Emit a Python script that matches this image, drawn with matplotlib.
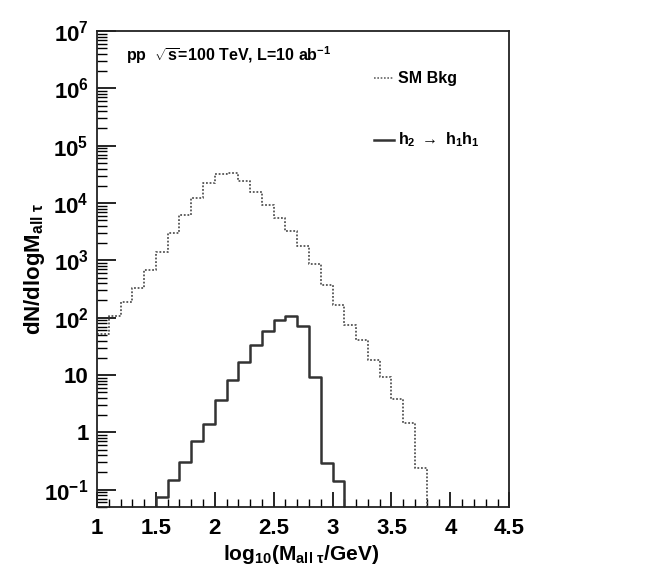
import numpy as np
import matplotlib
matplotlib.use("Agg")
import matplotlib.pyplot as plt
from matplotlib.ticker import LogLocator, FixedLocator, NullFormatter

plt.rcParams['font.family'] = ['Liberation Sans', 'DejaVu Sans']
plt.rcParams['font.weight'] = 'bold'
plt.rcParams['mathtext.fontset'] = 'custom'
plt.rcParams['mathtext.rm'] = 'Liberation Sans:bold'
plt.rcParams['mathtext.it'] = 'Liberation Sans:bold'
plt.rcParams['mathtext.bf'] = 'Liberation Sans:bold'
plt.rcParams['mathtext.default'] = 'bf'

# Histogram bin edges in log10(M / GeV)
bin_edges = np.round(np.arange(1.0, 4.5001, 0.1), 2)

# SM background per bin (bins 1.0-1.1 ... 3.7-3.8), zero afterwards
sm_bkg = [53, 108, 185, 325, 690, 1390, 2950, 6200, 12400, 22500,
          32000, 33500, 24000, 15700, 9100, 5400, 3200, 1750, 850, 370,
          165, 75, 41, 18, 9.2, 3.9, 1.45, 0.24, 0, 0, 0, 0, 0, 0, 0]

# Signal h2 -> h1 h1 per bin
signal = [0, 0, 0, 0, 0, 0.075, 0.148, 0.30, 0.71, 1.42,
          3.7, 8.3, 17, 33.6, 59, 91, 108, 72, 9.1, 0.29,
          0.145, 0, 0, 0, 0, 0, 0, 0, 0, 0, 0, 0, 0, 0, 0]

x_ticks = [1, 1.5, 2, 2.5, 3, 3.5, 4, 4.5]
x_tick_labels = ["1", "1.5", "2", "2.5", "3", "3.5", "4", "4.5"]
y_major = [1e-1, 1, 10, 1e2, 1e3, 1e4, 1e5, 1e6, 1e7]
y_labels = [r"$10^{-1}$", "1", "10", r"$10^{2}$", r"$10^{3}$", r"$10^{4}$",
            r"$10^{5}$", r"$10^{6}$", r"$10^{7}$"]

fig = plt.figure(figsize=(6.64, 5.72), dpi=100)
ax = fig.add_axes([0.146, 0.1136, 0.621, 0.8322])

ymin, ymax = 0.05, 1e7


def step_outline(edges, vals, floor):
    """Build a ROOT-style histogram outline that drops to the axis floor."""
    xs, ys = [], []
    vals = np.asarray(vals, dtype=float)
    for i, v in enumerate(vals):
        v_plot = v if v > 0 else floor
        xs += [edges[i], edges[i + 1]]
        ys += [v_plot, v_plot]
    return np.array(xs), np.array(ys)


xb, yb = step_outline(bin_edges, sm_bkg, ymin * 0.5)
xs, ys = step_outline(bin_edges, signal, ymin * 0.5)

ax.plot(xb, yb, color='#555555', lw=1.3, linestyle=(0, (1, 1)), clip_on=True)
ax.plot(xs, ys, color='#333333', lw=1.8, linestyle='-', clip_on=True)

ax.set_yscale('log')
ax.set_xlim(1, 4.5)
ax.set_ylim(ymin, ymax)

ax.xaxis.set_major_locator(FixedLocator(x_ticks))
ax.set_xticklabels(x_tick_labels)
ax.xaxis.set_minor_locator(FixedLocator(np.arange(1.0, 4.5001, 0.1)))
ax.yaxis.set_major_locator(FixedLocator(y_major))
ax.set_yticklabels(y_labels)
ax.yaxis.set_minor_locator(LogLocator(base=10, subs=np.arange(2, 10)))
ax.yaxis.set_minor_formatter(NullFormatter())

ax.tick_params(axis='both', which='both', direction='in', top=False, right=False)
ax.tick_params(axis='x', which='major', length=11, width=1.2, labelsize=16, pad=8)
ax.tick_params(axis='x', which='minor', length=6, width=1.0)
ax.tick_params(axis='y', which='major', length=14, width=1.2, labelsize=16, pad=6)
ax.tick_params(axis='y', which='minor', length=7, width=1.0)
for lbl in ax.get_xticklabels() + ax.get_yticklabels():
    lbl.set_fontweight('bold')

for sp in ax.spines.values():
    sp.set_linewidth(1.3)
    sp.set_color('#222222')

ax.set_xlabel(r"log$_{10}$(M$_{\mathregular{all}\ \tau}$/GeV)", fontsize=15,
              fontweight='bold')
ax.xaxis.set_label_coords(0.495, -0.075)
ax.set_ylabel(r"dN/dlogM$_{\mathregular{all}\ \tau}$", fontsize=16,
              fontweight='bold')
ax.yaxis.set_label_coords(-0.12, 0.5)

ax.text(0.07, 0.95, r"pp  $\sqrt{s}$=100 TeV, L=10 ab$^{-1}$",
        transform=ax.transAxes, fontsize=11.5, fontweight='bold', va='center')

# Legend entries
ax.plot([0.672, 0.72], [0.901, 0.901], transform=ax.transAxes,
        color='#666666', lw=1.2, linestyle=(0, (1, 1)))
ax.text(0.73, 0.901, "SM Bkg", transform=ax.transAxes, fontsize=11.5,
        fontweight='bold', va='center')
ax.plot([0.672, 0.72], [0.771, 0.771], transform=ax.transAxes,
        color='#333333', lw=1.8)
ax.text(0.73, 0.771, r"h$_2$ $\rightarrow$ h$_1$h$_1$", transform=ax.transAxes,
        fontsize=11.5, fontweight='bold', va='center')

fig.savefig("out.png", dpi=100)
